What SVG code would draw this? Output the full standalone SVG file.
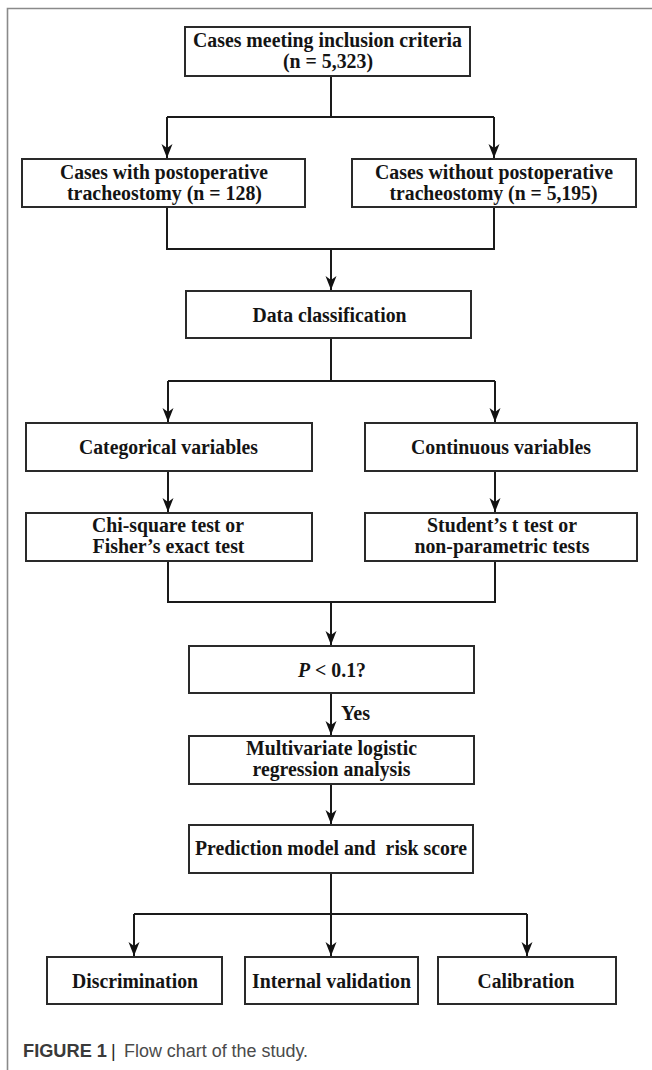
<svg xmlns="http://www.w3.org/2000/svg" width="652" height="1070" viewBox="0 0 652 1070">
<style>
.box{fill:#fff;stroke:#2a2a2a;stroke-width:2}
.t{font-family:"Liberation Serif","Times New Roman",serif;font-weight:bold;font-size:20.5px;fill:#141414;text-anchor:middle}
.ln{fill:none;stroke:#1a1a1a;stroke-width:2}
.cap{font-family:"Liberation Sans",Arial,sans-serif;font-size:18px}
</style>
<defs>
<marker id="ah" viewBox="-15 -7 16 14" refX="0" refY="0" markerWidth="16" markerHeight="14" markerUnits="userSpaceOnUse" orient="auto">
<path d="M-14,-5.5 L0,0 L-14,5.5 L-10,0 Z" fill="#111"/>
</marker>
</defs>
<rect width="652" height="1070" fill="#fff"/>
<path d="M7.5,1070 V8.5 H652" fill="none" stroke="#8a8a8a" stroke-width="1.6"/>

<g id="connectors">
<path class="ln" d="M331,76 V117 M167,117 H494"/>
<path class="ln" d="M167,117 V158" marker-end="url(#ah)"/>
<path class="ln" d="M494,117 V158" marker-end="url(#ah)"/>
<path class="ln" d="M167,207 V249 H494 V207"/>
<path class="ln" d="M331,249 V290" marker-end="url(#ah)"/>
<path class="ln" d="M331,338 V381 M168,381 H495"/>
<path class="ln" d="M168,381 V422" marker-end="url(#ah)"/>
<path class="ln" d="M495,381 V422" marker-end="url(#ah)"/>
<path class="ln" d="M168,471 V512" marker-end="url(#ah)"/>
<path class="ln" d="M495,471 V512" marker-end="url(#ah)"/>
<path class="ln" d="M168,561 V602 H495 V561"/>
<path class="ln" d="M331,602 V645" marker-end="url(#ah)"/>
<path class="ln" d="M331,693 V735" marker-end="url(#ah)"/>
<text class="t" x="341" y="720" style="text-anchor:start" textLength="29" lengthAdjust="spacingAndGlyphs">Yes</text>
<path class="ln" d="M331,784 V824" marker-end="url(#ah)"/>
<path class="ln" d="M331,873 V914 M134,914 H527"/>
<path class="ln" d="M134,914 V956" marker-end="url(#ah)"/>
<path class="ln" d="M331,914 V956" marker-end="url(#ah)"/>
<path class="ln" d="M527,914 V956" marker-end="url(#ah)"/>
</g>

<g id="n-inclusion">
<rect class="box" x="185" y="27" width="285" height="49"/>
<text class="t" x="327.5" y="46.5" textLength="269" lengthAdjust="spacingAndGlyphs">Cases meeting inclusion criteria</text>
<text class="t" x="328" y="67.5" textLength="90" lengthAdjust="spacingAndGlyphs">(n = 5,323)</text>
</g>

<g id="n-with">
<rect class="box" x="22" y="159" width="283" height="48"/>
<text class="t" x="164" y="179" textLength="208" lengthAdjust="spacingAndGlyphs">Cases with postoperative</text>
<text class="t" x="164.5" y="200" textLength="195" lengthAdjust="spacingAndGlyphs">tracheostomy (n = 128)</text>
</g>

<g id="n-without">
<rect class="box" x="352" y="159" width="284" height="48"/>
<text class="t" x="494" y="179" textLength="238" lengthAdjust="spacingAndGlyphs">Cases without postoperative</text>
<text class="t" x="493.5" y="200" textLength="208" lengthAdjust="spacingAndGlyphs">tracheostomy (n = 5,195)</text>
</g>

<g id="n-data">
<rect class="box" x="186" y="291" width="285" height="47"/>
<text class="t" x="329.5" y="321.5" textLength="154" lengthAdjust="spacingAndGlyphs">Data classification</text>
</g>

<g id="n-categorical">
<rect class="box" x="26" y="423" width="286" height="48"/>
<text class="t" x="168.5" y="454" textLength="179" lengthAdjust="spacingAndGlyphs">Categorical variables</text>
</g>

<g id="n-continuous">
<rect class="box" x="365" y="423" width="272" height="48"/>
<text class="t" x="501" y="454" textLength="180" lengthAdjust="spacingAndGlyphs">Continuous variables</text>
</g>

<g id="n-chi">
<rect class="box" x="26" y="513" width="286" height="48"/>
<text class="t" x="168" y="532" textLength="152" lengthAdjust="spacingAndGlyphs">Chi-square test or</text>
<text class="t" x="168.5" y="553" textLength="152" lengthAdjust="spacingAndGlyphs">Fisher’s exact test</text>
</g>

<g id="n-student">
<rect class="box" x="365" y="513" width="272" height="48"/>
<text class="t" x="502" y="532" textLength="150" lengthAdjust="spacingAndGlyphs">Student’s t test or</text>
<text class="t" x="502" y="553" textLength="175" lengthAdjust="spacingAndGlyphs">non-parametric tests</text>
</g>

<g id="n-p">
<rect class="box" x="189" y="646" width="285" height="47"/>
<text class="t" x="332" y="676.5" textLength="68" lengthAdjust="spacingAndGlyphs"><tspan font-style="italic">P</tspan> &lt; 0.1?</text>
</g>

<g id="n-multivariate">
<rect class="box" x="189" y="736" width="285" height="48"/>
<text class="t" x="331.5" y="755" textLength="171" lengthAdjust="spacingAndGlyphs">Multivariate logistic</text>
<text class="t" x="331.5" y="776" textLength="158" lengthAdjust="spacingAndGlyphs">regression analysis</text>
</g>

<g id="n-prediction">
<rect class="box" x="189" y="825" width="284" height="48"/>
<text class="t" x="331" y="855" textLength="272" lengthAdjust="spacingAndGlyphs" xml:space="preserve">Prediction model and  risk score</text>
</g>

<g id="n-discrimination">
<rect class="box" x="47" y="957" width="175" height="47"/>
<text class="t" x="135" y="987.5" textLength="126" lengthAdjust="spacingAndGlyphs">Discrimination</text>
</g>

<g id="n-internal">
<rect class="box" x="245" y="957" width="173" height="47"/>
<text class="t" x="331.5" y="987.5" textLength="159" lengthAdjust="spacingAndGlyphs">Internal validation</text>
</g>

<g id="n-calibration">
<rect class="box" x="438" y="957" width="178" height="47"/>
<text class="t" x="526" y="987.5" textLength="97" lengthAdjust="spacingAndGlyphs">Calibration</text>
</g>

<g id="caption">
<text class="cap" x="23" y="1057" font-weight="bold" fill="#3a3a3a" textLength="84" lengthAdjust="spacingAndGlyphs">FIGURE 1</text>
<text class="cap" x="111" y="1057" fill="#222">|</text>
<text class="cap" x="124" y="1057" fill="#4a4a4a" textLength="184" lengthAdjust="spacingAndGlyphs">Flow chart of the study.</text>
</g>
</svg>
